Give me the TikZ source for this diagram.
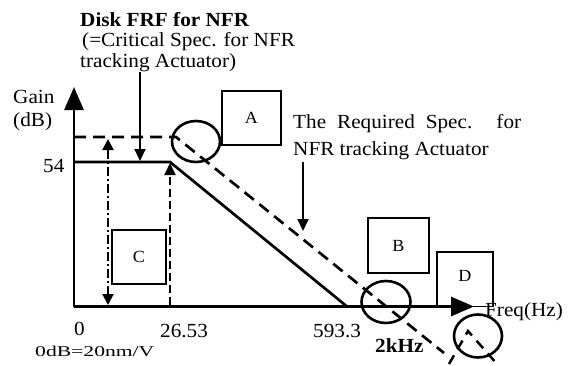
\documentclass[tikz,border=0pt]{standalone}
\usepackage{fontspec}
\setmainfont[FakeStretch=1.06]{Liberation Serif}
\usepackage{graphicx}
\usetikzlibrary{arrows.meta,shapes.geometric}
\tikzset{
  txt/.style={inner sep=0pt, anchor=base west, font=\fontsize{20}{22}\selectfont},
  btxt/.style={txt, font=\fontsize{20}{22}\selectfont\bfseries},
  boxlbl/.style={draw, line width=1.3pt, inner sep=0pt, font=\fontsize{17}{19}\selectfont},
  ring/.style={draw, ellipse, line width=2.6pt, inner sep=0pt},
  curve/.style={line width=2.7pt},
  dcurve/.style={line width=2.7pt, dash pattern=on 12pt off 7pt},
  axisarrow/.style={line width=2.8pt, -{Triangle[length=23pt,width=19pt]}},
  sharrow/.style={line width=2pt, -{Triangle[length=12pt,width=11pt]}},
}
\begin{document}
\begin{tikzpicture}[x=1pt,y=-1pt]
\useasboundingbox (0,0) rectangle (571,365);
% key coordinates
\coordinate (O) at (74,306.5);
\coordinate (Ytip) at (74,87);
\coordinate (Xtip) at (474,306.5);
\coordinate (S0) at (74,162);
\coordinate (S1) at (170,162);
\coordinate (S2) at (347,306.5);
\coordinate (D0) at (74,137);
\coordinate (D1) at (176,137);
\coordinate (D2) at (444,353);
\coordinate (P0) at (449,364);
\coordinate (P1) at (468,331);
\coordinate (P2) at (497,364);
% boxes
\node[boxlbl, minimum width=59pt, minimum height=54pt] (boxA) at (251.5,118) {A};
\node[boxlbl, minimum width=61pt, minimum height=55pt] (boxB) at (398.5,245.5) {B};
\node[boxlbl, minimum width=54pt, minimum height=54pt] (boxC) at (139,257) {C};
\node[draw, line width=1.3pt, minimum width=56pt, minimum height=54.5pt, inner sep=0pt] (boxD) at (465,279.25) {};
\node[inner sep=0pt, font=\fontsize{17}{19}\selectfont] (lblD) at (465,276) {D};
% curves
\draw[curve] (S0) -- (S1) -- (S2);
\draw[dcurve] (D0) -- (D1) -- (D2);
\draw[line width=2.5pt, dash pattern=on 10pt off 7pt] (P0) -- (P1) -- (P2);
% axes
\draw[axisarrow] (O) -- (Ytip);
\draw[axisarrow] (O) -- (Xtip);
% rings
\node[ring, minimum width=48pt, minimum height=41pt] (ringA) at (196,141.5) {};
\node[ring, minimum width=49pt, minimum height=42pt] (ring2k) at (386,302) {};
\node[ring, minimum width=48pt, minimum height=43pt] (ringD) at (478,336) {};
% vertical arrows
\coordinate (c1top) at (108,139);
\coordinate (c1bot) at (108,305);
\draw[line width=2pt, dash pattern=on 9pt off 3pt on 2pt off 3pt,
  {Triangle[length=11pt,width=11pt]}-{Triangle[length=11pt,width=11pt]}] (c1top) -- (c1bot);
\coordinate (c2bot) at (170,305);
\coordinate (c2top) at (170,163);
\draw[line width=2pt, dash pattern=on 8pt off 4pt, -{Triangle[length=12pt,width=11pt]}] (c2bot) -- (c2top);
% texts
\node[btxt] (t1) at (80,26) {Disk FRF for NFR};
\node[txt] (t2) at (82,46) {(=Critical Spec. for NFR};
\node[txt] (t3) at (80,67) {tracking Actuator)};
\coordinate (a1s) at (140,72);
\coordinate (a1e) at (140,161);
\draw[sharrow] (a1s) -- (a1e);
\node[txt] (r1) at (293,128) {\makebox[228pt][s]{The Required Spec. for}};
\node[txt] (r2) at (293,155) {NFR tracking Actuator};
\coordinate (a2s) at (303,162);
\coordinate (a2e) at (303,231);
\draw[sharrow] (a2s) -- (a2e);
\node[txt] (gain) at (13,103) {Gain};
\node[txt] (db) at (13,126) {(dB)};
\node[txt] (v54) at (43,172) {54};
\node[txt] (v0) at (74,335) {0};
\node[txt] (v26) at (160,337) {26.53};
\node[txt] (v593) at (313,337) {593.3};
\node[btxt] (v2k) at (375,352) {2kHz};
\node[txt] (freq) at (485,316) {Freq(Hz)};
\node[txt, font=\fontsize{15}{17}\selectfont] (odb) at (35,356) {\scalebox{1.36}[1]{0dB=20nm/V}};
\end{tikzpicture}
\end{document}
